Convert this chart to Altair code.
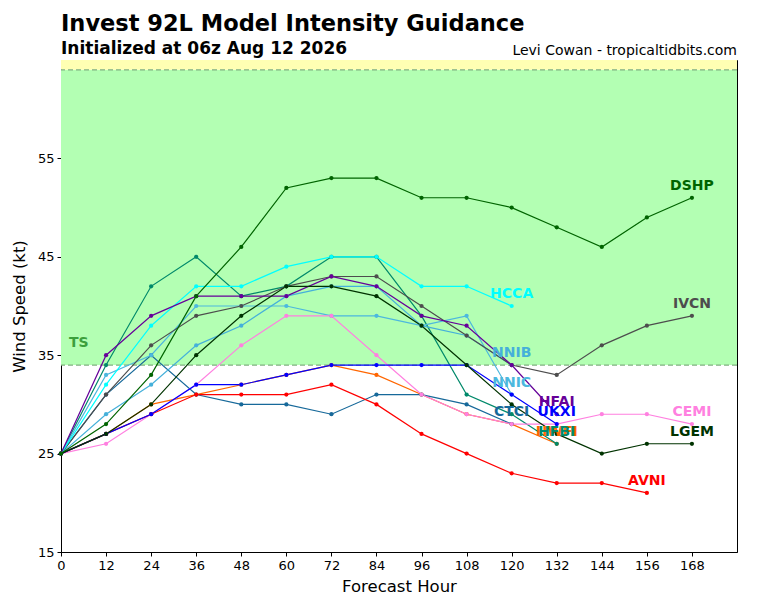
import altair as alt
import pandas as pd

hours = [0, 12, 24, 36, 48, 60, 72, 84, 96, 108, 120, 132, 144, 156, 168]

DSHP = [25, 28, 33, 41, 46, 52, 53, 53, 51, 51, 50, 48, 46, 49, 51]
LGEM = [25, 27, 30, 35, 39, 42, 42, 41, 38, 34, 30, 27, 25, 26, 26]
IVCN = [25, 31, 36, 39, 40, 42, 43, 43, 40, 37, 34, 33, 36, 38, 39]
CEMI = [25, 26, 29, 32, 36, 39, 39, 35, 31, 29, 28, 28, 29, 29, 28]
AVNI = [25, 27, 29, 31, 31, 31, 32, 30, 27, 25, 23, 22, 22, 21]
HCCA = [25, 32, 38, 42, 42, 44, 45, 45, 42, 42, 40]
NNIB = [25, 29, 32, 36, 38, 41, 42, 42, 38, 37, 34]
NNIC = [25, 33, 35, 40, 40, 40, 39, 39, 38, 39, 31]
CTCI = [25, 31, 35, 31, 30, 30, 29, 31, 31, 30, 28]
HFAI = [25, 35, 39, 41, 41, 41, 43, 42, 39, 38, 34, 29]
UKXI = [25, 27, 29, 32, 32, 33, 34, 34, 34, 34, 31, 28]
HWFI = [25, 27, 30, 31, 32, 33, 34, 33, 31, 29, 28, 26]
HFBI = [25, 34, 42, 45, 41, 42, 45, 45, 39, 31, 29, 26]

models = ["HWFI", "HFBI", "CTCI", "NNIC", "NNIB", "IVCN", "HCCA", "HFAI",
          "CEMI", "AVNI", "UKXI", "LGEM", "DSHP"]
series = {"DSHP": DSHP, "LGEM": LGEM, "IVCN": IVCN, "CEMI": CEMI, "AVNI": AVNI,
          "HCCA": HCCA, "NNIB": NNIB, "NNIC": NNIC, "CTCI": CTCI, "HFAI": HFAI,
          "UKXI": UKXI, "HWFI": HWFI, "HFBI": HFBI}
colors = {"DSHP": "#006400", "LGEM": "#003300", "IVCN": "#4d4d4d", "CEMI": "#ff80e0",
          "AVNI": "#ff0000", "HCCA": "#00ffff", "NNIB": "#45b0da", "NNIC": "#4cb8de",
          "CTCI": "#17699a", "HFAI": "#660099", "UKXI": "#0000ff", "HWFI": "#ff6600",
          "HFBI": "#00896a"}

rows = []
for i, m in enumerate(models):
    for h, v in zip(hours, series[m]):
        rows.append({"model": m, "hour": h, "wind": v, "order": i})
df = pd.DataFrame(rows)
last = pd.DataFrame([{"model": m, "hour": hours[len(series[m]) - 1], "wind": series[m][-1], "order": i}
                     for i, m in enumerate(models)])

FONT = "DejaVu Sans"
xscale = alt.Scale(domain=[0, 180], nice=False, zero=False)
yscale = alt.Scale(domain=[15, 65], nice=False, zero=False)
cscale = alt.Scale(domain=models, range=[colors[m] for m in models])

bands = pd.DataFrame({"lo": [34, 64], "hi": [64, 65], "band": ["TS", "HU"]})
band_layer = alt.Chart(bands).mark_rect(opacity=1).encode(
    x=alt.value(0), x2=alt.value(676),
    y=alt.Y("lo:Q", scale=yscale), y2="hi:Q",
    color=alt.Color("band:N", scale=alt.Scale(domain=["TS", "HU"], range=["#b3ffb3", "#ffffb3"]), legend=None),
)
thresh = pd.DataFrame({"v": [34, 64]})
rule_layer = alt.Chart(thresh).mark_rule(strokeDash=[5, 3], color="#80b080", strokeWidth=1.2).encode(
    y=alt.Y("v:Q", scale=yscale)
)
ts_label = alt.Chart(pd.DataFrame({"t": ["TS"], "h": [2.1], "w": [36.2]})).mark_text(
    align="left", baseline="middle", font=FONT, fontSize=14, fontWeight="bold", color="#3ca03c"
).encode(x=alt.X("h:Q", scale=xscale), y=alt.Y("w:Q", scale=yscale), text="t:N")

base = alt.Chart(df).encode(
    x=alt.X("hour:Q", scale=xscale,
            axis=alt.Axis(values=hours, title="Forecast Hour", grid=False, labelFlush=False)),
    y=alt.Y("wind:Q", scale=yscale,
            axis=alt.Axis(values=[15, 25, 35, 45, 55], title="Wind Speed (kt)", grid=False, labelFlush=False)),
    color=alt.Color("model:N", scale=cscale, legend=None),
    detail="model:N",
    order="hour:Q",
)
lines = base.mark_line(strokeWidth=1.2)
points = base.mark_point(filled=True, size=18, opacity=1)

labels = alt.Chart(last).mark_text(
    font=FONT, fontSize=14, fontWeight="bold", dy=-12, baseline="middle", align="center"
).encode(
    x=alt.X("hour:Q", scale=xscale),
    y=alt.Y("wind:Q", scale=yscale),
    text="model:N",
    color=alt.Color("model:N", scale=cscale, legend=None),
)

title_t = alt.Chart(pd.DataFrame({"t": ["Invest 92L Model Intensity Guidance"]})).mark_text(
    align="left", baseline="alphabetic", font=FONT, fontSize=22.5,
    fontWeight="bold", color="black"
).encode(x=alt.value(0), y=alt.value(-29), text="t:N")
sub_t = alt.Chart(pd.DataFrame({"t": ["Initialized at 06z Aug 12 2026"]})).mark_text(
    align="left", baseline="alphabetic", font=FONT, fontSize=17,
    fontWeight="bold", color="black"
).encode(x=alt.value(0), y=alt.value(-6), text="t:N")
credit_t = alt.Chart(pd.DataFrame({"t": ["Levi Cowan - tropicaltidbits.com"]})).mark_text(
    align="right", baseline="alphabetic", font=FONT, fontSize=14,
    color="black"
).encode(x=alt.value(676), y=alt.value(-5), text="t:N")

chart = alt.layer(
    band_layer, rule_layer, ts_label, lines, points, labels, title_t, sub_t, credit_t
).resolve_scale(color="independent").properties(
    width=676, height=492,
    autosize=alt.AutoSizeParams(type="none"),
    padding={"left": 53, "top": 52, "right": 15, "bottom": 46},
).configure_view(
    stroke="black", strokeWidth=1
).configure_axis(
    labelFont=FONT, labelFontSize=13, labelColor="black",
    titleFont=FONT, titleFontSize=16.5, titleFontWeight="normal", titleColor="black",
    domainColor="black", tickColor="black", tickSize=4, labelPadding=3,
).configure_axisY(titlePadding=10).configure_axisX(titlePadding=6)

chart.save("out.html", embed_options={"renderer": "svg", "actions": False})
